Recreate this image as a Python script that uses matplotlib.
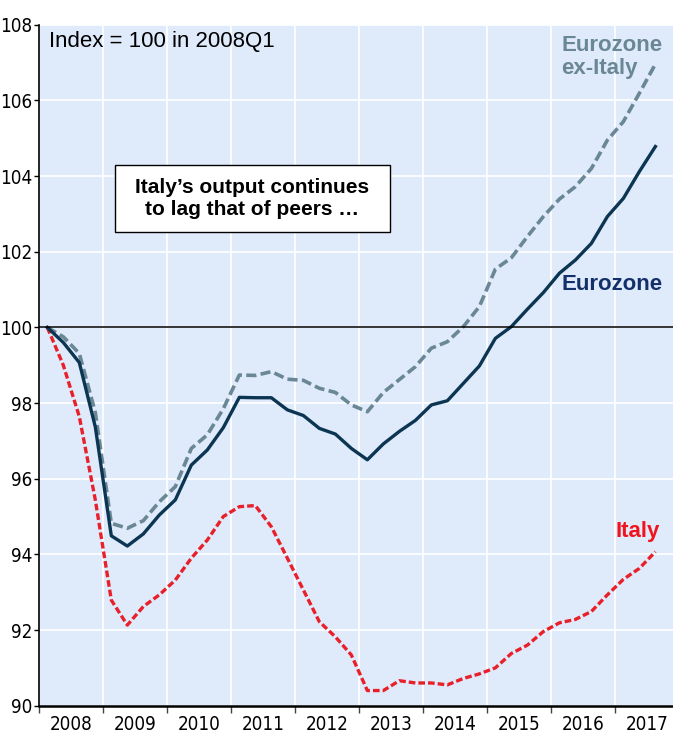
import matplotlib
matplotlib.use('Agg')
import matplotlib.pyplot as plt
import matplotlib.ticker as ticker
from matplotlib.patches import Rectangle

# quarterly index, 2008Q1 = 100
years = list(range(2008, 2018))
n_q = 39  # 2008Q1 .. 2017Q3

eurozone = [100.0, 99.6, 99.07, 97.37, 94.49, 94.22, 94.54, 95.04, 95.44, 96.36,
            96.76, 97.35, 98.15, 98.14, 98.14, 97.82, 97.67, 97.33, 97.18, 96.8,
            96.5, 96.92, 97.25, 97.54, 97.95, 98.06, 98.52, 98.98, 99.71, 100.02,
            100.48, 100.92, 101.43, 101.78, 102.22, 102.93, 103.41, 104.12, 104.78]

ex_italy = [100.0, 99.75, 99.31, 97.75, 94.82, 94.69, 94.89, 95.39, 95.79, 96.8,
            97.16, 97.85, 98.74, 98.73, 98.83, 98.63, 98.6, 98.39, 98.28, 97.95,
            97.77, 98.28, 98.62, 98.96, 99.45, 99.62, 100.02, 100.55, 101.54, 101.84,
            102.4, 102.93, 103.39, 103.72, 104.2, 104.95, 105.44, 106.19, 106.96]

italy = [100.0, 99.0, 97.64, 95.44, 92.79, 92.13, 92.62, 92.93, 93.32, 93.9,
         94.38, 95.0, 95.26, 95.29, 94.73, 93.9, 93.06, 92.22, 91.82, 91.34,
         90.4, 90.4, 90.66, 90.6, 90.6, 90.55, 90.72, 90.84, 91.0, 91.38,
         91.6, 91.96, 92.19, 92.28, 92.49, 92.93, 93.34, 93.63, 94.07]

# quarter midpoints in year units
x = [2008 + (i + 0.5) / 4 for i in range(n_q)]

c_ez = '#0c3552'
c_ex = '#6a8795'
c_it = '#e8202a'
bg = '#dfeafb'

plt.rcParams['font.family'] = ['Liberation Sans', 'DejaVu Sans']
tick_font = ['Liberation Sans Narrow', 'DejaVu Sans Condensed', 'DejaVu Sans']

fig = plt.figure(figsize=(6.73, 7.38), dpi=100)
ax = fig.add_axes([0.0584, 0.0438, 0.9416, 0.9227])
ax.set_facecolor(bg)

ax.plot(x, ex_italy, color=c_ex, lw=2.6, dashes=(2.8, 1.2), zorder=3)
ax.plot(x, eurozone, color=c_ez, lw=2.4, zorder=4)
ax.plot(x, italy, color=c_it, lw=2.4, dashes=(2.0, 0.9), zorder=3)
ax.axhline(100, color='black', lw=1.1, zorder=5)

ax.set_xlim(2008, 2017.9)
ax.set_ylim(90, 108)

ax.xaxis.set_major_locator(ticker.FixedLocator(years))
ax.xaxis.set_major_formatter(ticker.NullFormatter())
ax.xaxis.set_minor_locator(ticker.FixedLocator([y + 0.5 for y in years]))
ax.xaxis.set_minor_formatter(ticker.FixedFormatter([str(y) for y in years]))
ax.tick_params(axis='x', which='major', length=5, width=1, color='#444444', direction='out')
ax.tick_params(axis='x', which='minor', length=0, pad=7, labelsize=13.5)
ax.yaxis.set_major_locator(ticker.MultipleLocator(2))
ax.tick_params(axis='y', length=3.5, width=1, pad=1.5, labelsize=13.5, direction='out')
for lab in ax.get_xticklabels(minor=True) + ax.get_yticklabels():
    lab.set_family(tick_font)
    lab.set_stretch('condensed')

ax.grid(which='major', color='white', lw=1.2, zorder=1)
ax.set_axisbelow(True)

for s in ['top', 'right']:
    ax.spines[s].set_visible(False)
ax.spines['bottom'].set_linewidth(1.8)
ax.spines['left'].set_linewidth(1.2)

ax.text(0.0153, 0.9753, 'Index = 100 in 2008Q1', transform=ax.transAxes,
        fontsize=16, va='center', ha='left', color='black')

ax.add_patch(Rectangle((0.1195, 0.6956), 0.4339, 0.0984, transform=ax.transAxes,
                       facecolor='white', edgecolor='black', lw=1, zorder=6))
ax.text(0.3365, 0.7448, 'Italy\u2019s output continues\nto lag that of peers \u2026',
        transform=ax.transAxes, fontsize=15, fontweight='bold', ha='center',
        va='center', linespacing=1.25, zorder=7)

ax.text(0.8233, 0.985, 'Eurozone\nex-Italy', transform=ax.transAxes, fontsize=16,
        fontweight='bold', color=c_ex, ha='left', va='top', linespacing=1.1)
ax.text(0.8248, 0.6185, 'Eurozone', transform=ax.transAxes, fontsize=16,
        fontweight='bold', color='#13306a', ha='left', va='center')
ax.text(0.9096, 0.2565, 'Italy', transform=ax.transAxes, fontsize=16,
        fontweight='bold', color='#f0141e', ha='left', va='center')

plt.savefig('out.png', dpi=100)
